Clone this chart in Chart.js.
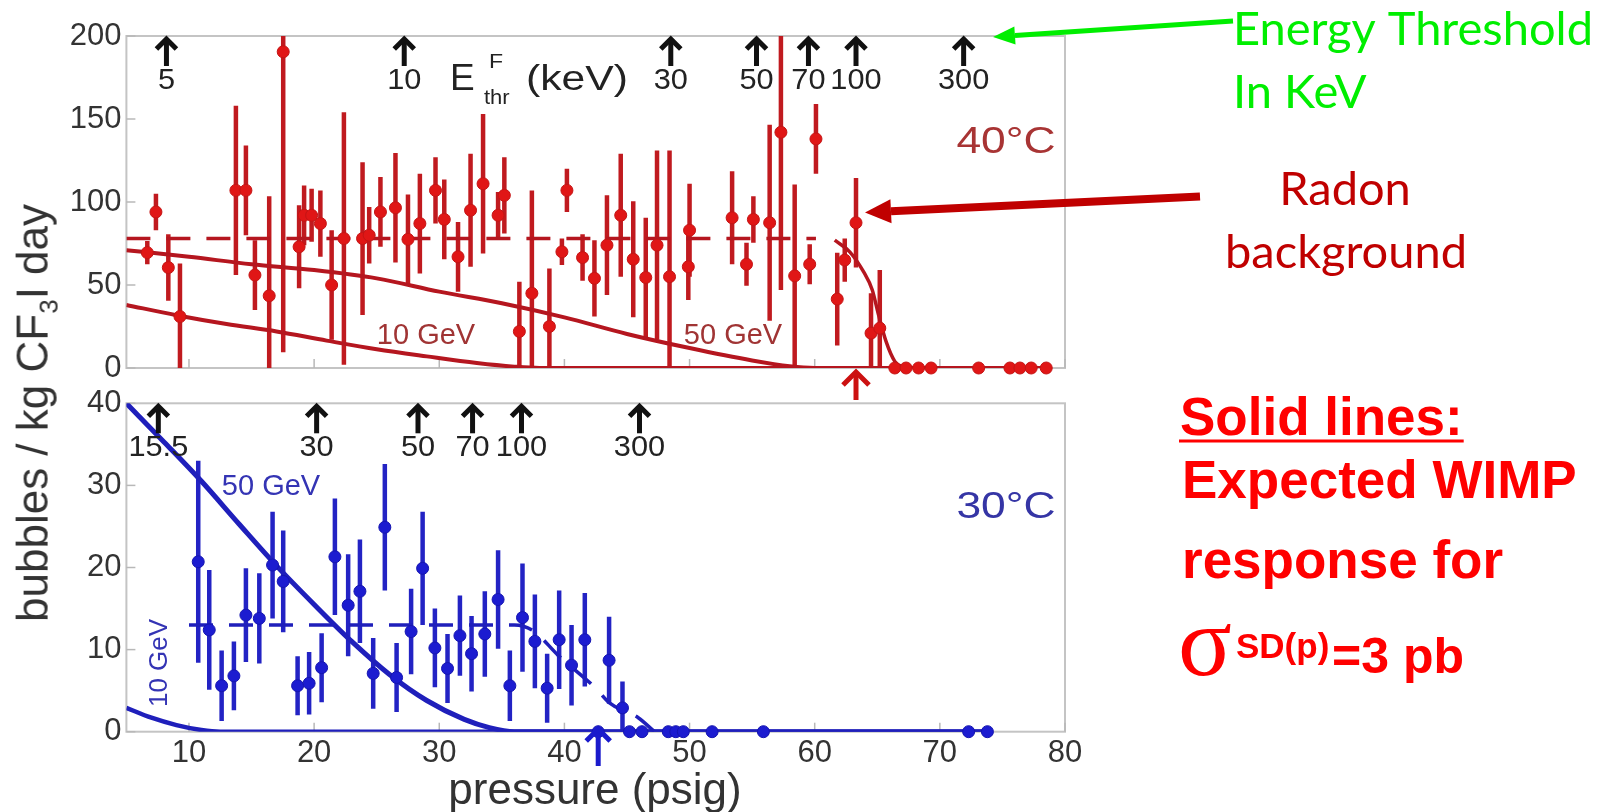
<!DOCTYPE html>
<html><head><meta charset="utf-8">
<script src="https://cdn.jsdelivr.net/npm/chart.js@4/dist/chart.umd.min.js"></script>
<style>
html,body{margin:0;padding:0;background:#fff;width:1619px;height:812px;overflow:hidden;}
#top{position:absolute;left:0;top:0;}
#bot{position:absolute;left:0;top:380px;}
#ytitle{position:absolute;left:36px;top:413px;transform:translate(-50%,-50%) rotate(-90deg);font:44px "Liberation Sans",Arial,sans-serif;color:#333;white-space:nowrap;line-height:1;}
#ytitle sub{font-size:26px;}
</style></head><body>
<canvas id="top" width="1619" height="400"></canvas>
<canvas id="bot" width="1619" height="432"></canvas>
<div id="ytitle">bubbles / kg CF<sub>3</sub>I day</div>
<script>
// ---------- data ----------
const xTicks = [10,20,30,40,50,60,70,80];
const yTicksTop = [0,50,100,150,200];
const yTicksBot = [0,10,20,30,40];

// 40°C (top panel) measurements
const redX = [6.67,7.36,8.35,9.28,13.75,14.55,15.27,16.41,17.53,18.8,19.2,19.8,20.5,21.4,22.38,23.87,24.4,25.3,26.5,27.5,28.45,29.7,30.4,31.5,32.5,33.5,34.7,35.2,36.4,37.4,38.8,39.8,40.2,41.45,42.4,43.4,44.5,45.5,46.5,47.4,48.4,49.9,50.0,53.4,54.55,55.1,56.4,57.3,58.4,59.6,60.1,61.8,62.4,63.3,64.5,65.2,66.4,67.3,68.3,69.3,73.1,75.6,76.4,77.3,78.5];
const redY = [69.5,94,60.5,31,107,107,56,43.5,190.5,73,92,92,87,50,78,78,80,94,96.5,77.5,87,107,89.5,67,95,111,92,104,22,45,25,70,107,66.5,54,74,92,65.5,54.5,74,55,61,83,90.5,62.5,89.5,87.5,142,55.5,62.5,138,41.5,65,87.5,21,24,0,0,0,0,0,0,0,0,0];
const redErr = [7,11,20,32,51,27,21,60,181,25,18,16,20,33,76,46,17,21,33,27,30,20,24,21,34,42,14,23,30,62,35,8,13,14,23,30,37,35,36,57,76,20,28,28,13,14,59,95,55,12,21,28,13,27,24,35,0,0,0,0,0,0,0,0,0];

// 30°C (bottom panel) measurements
const blueX = [10.74,11.62,12.61,13.59,14.55,15.62,16.68,17.53,18.68,19.6,20.6,21.66,22.72,23.66,24.72,25.65,26.59,27.75,28.67,29.65,30.66,31.65,32.58,33.64,34.7,35.64,36.65,37.64,38.62,39.58,40.57,41.63,43.57,44.64,42.7,45.2,46.2,48.3,48.9,49.5,51.8,55.9,72.3,73.8];
const blueY = [20.7,12.4,5.6,6.8,14.2,13.8,20.3,18.3,5.6,5.9,7.8,21.3,15.4,17.1,7.1,24.9,6.6,12.2,19.9,10.2,7.7,11.7,9.5,11.9,16.1,5.6,13.9,11,5.3,11.2,8.1,11.2,8.7,2.9,0,0,0,0,0,0,0,0,0,0];
const blueErr = [12.3,7.3,4.3,4.2,5.7,5.5,6.5,6.2,3.6,3.8,4.2,7.1,6.2,6.3,4.3,7.7,4.2,5.2,6.9,4.8,4.2,4.9,4.6,5.2,6,4.3,6.6,5.7,4.2,6,4.9,5.7,5.3,3.2,0,0,0,0,0,0,0,0,0,0];

// expected WIMP response curves
const top10X = [5,9,13,17,21,25,29,33,36,38,78.5];
const top10Y = [38,31.8,26.5,22,16.5,11.3,7,3,0.8,0,0];
const top50X = [5,10,15,20,25,30,35,40,45,50,55,58,60,78.5];
const top50Y = [71,67,62.5,59,54,46,39,30.5,20.5,12,4.5,1,0,0];
const bot50X = [5,8,11,14,17,20,23,26,29,32,34,36,74];
const bot50Y = [40,35.3,30.5,25.3,20.2,15.5,11,7,3.8,1.5,0.5,0,0];
const bot10X = [5,7,9,11,12.5,74];
const bot10Y = [2.9,1.7,0.8,0.2,0,0];

// background levels
const radonFlatX = [5,60.1];
const radonFlatY = [78,78];
const radonFallX = [61.6,62.8,63.9,64.6,65.1,65.7,66.4,67.2];
const radonFallY = [77,70,58,47,32,16,4,0];
const bgBotX = [10,36,37.5,39.5,42.5,43.6,45.9,47.2];
const bgBotY = [13,13,12.3,9.3,5.3,3.5,1.7,0];

// energy thresholds (pressure position, label)
const thrTopP = [8.2,27.2,48.5,55.35,59.5,63.3,71.9];
const thrTopLbl = ['5','10','30','50','70','100','300'];
const thrBotP = [7.55,20.2,28.3,32.66,36.57,46.0];
const thrBotLbl = ['15.5','30','50','70','100','300'];
const redMarkP = 63.3;
const blueMarkP = 42.7;

// ---------- helpers ----------
const FF = '"Liberation Sans", Arial, Helvetica, sans-serif';
const OB = 380; // top offset of bottom canvas
function xy(xs, ys){ return xs.map((x,i)=>({x:x, y:ys[i]})); }
function stext(ctx, txt, x, y, font, color, align, sx, baseline, rot){
  ctx.save(); ctx.translate(x,y); if(rot) ctx.rotate(rot); ctx.scale(sx||1,1);
  ctx.font=font; ctx.fillStyle=color; ctx.textAlign=align||'left'; ctx.textBaseline=baseline||'alphabetic';
  ctx.fillText(txt,0,0); ctx.restore();
}
function upArrow(ctx, x, tip, len, hw, hh, color, lw){
  ctx.save(); ctx.strokeStyle=color; ctx.lineWidth=lw; ctx.lineJoin='miter'; ctx.lineCap='butt';
  ctx.beginPath(); ctx.moveTo(x,tip+3); ctx.lineTo(x,tip+len); ctx.stroke();
  ctx.beginPath(); ctx.moveTo(x-hw,tip+hh); ctx.lineTo(x,tip+2); ctx.lineTo(x+hw,tip+hh); ctx.stroke();
  ctx.restore();
}
function leftArrow(ctx, x1, y1, tx, ty, color, lw, hl, hw){
  const ang = Math.atan2(y1-ty, x1-tx);
  const bx = tx + Math.cos(ang)*hl, by = ty + Math.sin(ang)*hl;
  ctx.save(); ctx.strokeStyle=color; ctx.fillStyle=color; ctx.lineWidth=lw;
  ctx.beginPath(); ctx.moveTo(x1,y1); ctx.lineTo(bx,by); ctx.stroke();
  const nx = -Math.sin(ang), ny = Math.cos(ang);
  ctx.beginPath(); ctx.moveTo(tx,ty); ctx.lineTo(bx+nx*hw, by+ny*hw); ctx.lineTo(bx-nx*hw, by-ny*hw); ctx.closePath(); ctx.fill();
  ctx.restore();
}

const errorBars = {
  id:'errorBars',
  beforeDatasetsDraw(chart){
    const {ctx, chartArea:a, scales:{x,y}} = chart;
    ctx.save();
    ctx.beginPath(); ctx.rect(a.left, a.top, a.right-a.left, a.bottom-a.top); ctx.clip();
    chart.data.datasets.forEach(ds=>{
      if(!ds.errs) return;
      ctx.strokeStyle = ds.errColor; ctx.lineWidth = 4.5;
      ds.data.forEach((p,i)=>{
        const e = ds.errs[i]; if(!e) return;
        const px = x.getPixelForValue(p.x);
        ctx.beginPath(); ctx.moveTo(px, y.getPixelForValue(Math.max(0,p.y-e))); ctx.lineTo(px, y.getPixelForValue(p.y+e)); ctx.stroke();
      });
    });
    ctx.restore();
  }
};
const frame = {
  id:'frame',
  beforeDatasetsDraw(chart){
    const {ctx, chartArea:a, scales:{x,y}} = chart;
    ctx.save();
    ctx.strokeStyle='#c4c4c4'; ctx.lineWidth=2;
    ctx.strokeRect(a.left, a.top, a.right-a.left, a.bottom-a.top);
    ctx.strokeStyle='#b8b8b8'; ctx.lineWidth=1.5;
    y.ticks.forEach(t=>{ const py=y.getPixelForValue(t.value); ctx.beginPath(); ctx.moveTo(a.left,py); ctx.lineTo(a.left+9,py); ctx.stroke(); });
    x.ticks.forEach(t=>{ const px=x.getPixelForValue(t.value); ctx.beginPath(); ctx.moveTo(px,a.bottom); ctx.lineTo(px,a.bottom-9); ctx.stroke(); });
    ctx.restore();
  }
};

const topAnnot = {
  id:'topAnnot',
  afterDraw(chart){
    const {ctx, chartArea:a, scales:{x}} = chart;
    const tip = a.top + 1;
    thrTopP.forEach((p,i)=>{
      const px = x.getPixelForValue(p);
      upArrow(ctx, px, tip, 29, 10, 12, '#111', 5);
      stext(ctx, thrTopLbl[i], px, tip+52, '29px '+FF, '#222', 'center', 1.06);
    });
    // E^F_thr (keV)
    stext(ctx, 'E', 450, 90, '37px '+FF, '#222', 'left', 1.0);
    stext(ctx, 'F', 489, 68, '21px '+FF, '#222', 'left', 1.1);
    stext(ctx, 'thr', 484, 104, '20px '+FF, '#222', 'left', 1.1);
    stext(ctx, '(keV)', 526, 90, '35px '+FF, '#222', 'left', 1.22);
    // panel labels
    stext(ctx, '40°C', 1006, 153, '37px '+FF, '#a83434', 'center', 1.2);
    stext(ctx, '10 GeV', 426, 344, '29px '+FF, '#a03434', 'center', 1);
    stext(ctx, '50 GeV', 733, 344, '29px '+FF, '#a03434', 'center', 1);
    // radon marker below axis
    upArrow(ctx, x.getPixelForValue(redMarkP), a.bottom+2, 30, 13, 15, '#cc1111', 5);
    // annotations on the right
    leftArrow(ctx, 1233, 21, 993, 37, '#00ee00', 5, 22, 9);
    stext(ctx, 'Energy Threshold', 1233, 45, '47px Lato, "Open Sans", sans-serif', '#00ee00', 'left');
    stext(ctx, 'In KeV', 1233, 108, '47px Lato, "Open Sans", sans-serif', '#00ee00', 'left');
    leftArrow(ctx, 1200, 196.5, 865, 212.5, '#c00000', 8, 26, 12);
    stext(ctx, 'Radon', 1345, 205, '47px Lato, "Open Sans", sans-serif', '#c00000', 'center');
    stext(ctx, 'background', 1346, 268, '47px Lato, "Open Sans", sans-serif', '#c00000', 'center');
  }
};

const botAnnot = {
  id:'botAnnot',
  afterDraw(chart){
    const {ctx, chartArea:a, scales:{x}} = chart;
    const tip = a.top + 1;
    thrBotP.forEach((p,i)=>{
      const px = x.getPixelForValue(p);
      upArrow(ctx, px, tip, 29, 10, 12, '#111', 5);
      stext(ctx, thrBotLbl[i], px, tip+52, '29px '+FF, '#222', 'center', 1.06);
    });
    stext(ctx, '30°C', 1006, 518-OB, '37px '+FF, '#3535a5', 'center', 1.2);
    stext(ctx, '50 GeV', 271, 495-OB, '29px '+FF, '#3434b4', 'center', 1);
    stext(ctx, '10 GeV', 160, 663-OB, '26px '+FF, '#3434b4', 'center', 1, 'middle', -Math.PI/2);
    upArrow(ctx, x.getPixelForValue(blueMarkP), 727-OB, 39, 12, 14, '#1a1acc', 5);
    stext(ctx, 'pressure (psig)', 595, 804-OB, '44px '+FF, '#333', 'center', 1);
    // WIMP note
    const bf = 'bold 53px '+FF;
    ctx.save(); ctx.font = bf; const w = ctx.measureText('Solid lines:').width; ctx.restore();
    stext(ctx, 'Solid lines:', 1180, 435-OB, bf, '#ff0000', 'left');
    ctx.save(); ctx.strokeStyle='#ff0000'; ctx.lineWidth=3; ctx.beginPath(); ctx.moveTo(1179, 441-OB); ctx.lineTo(1181+w, 441-OB); ctx.stroke(); ctx.restore();
    stext(ctx, 'Expected WIMP', 1182, 498-OB, bf, '#ff0000', 'left');
    stext(ctx, 'response for', 1182, 578-OB, bf, '#ff0000', 'left');
    stext(ctx, 'σ', 1178, 675-OB, '100px "Liberation Serif", "DejaVu Serif", serif', '#ff0000', 'left');
    stext(ctx, 'SD(p)', 1236, 658-OB, 'bold 35px '+FF, '#ff0000', 'left');
    stext(ctx, '=3 pb', 1332, 673-OB, 'bold 50px '+FF, '#ff0000', 'left');
  }
};

function yScale(min, max, ticksArr){
  return {
    type:'linear', min:min, max:max,
    afterBuildTicks: s=>{ s.ticks = ticksArr.map(v=>({value:v})); },
    afterFit: s=>{ s.width = 126.4; s.paddingTop = 0; s.paddingBottom = 0; },
    grid:{display:false, drawTicks:false}, border:{display:false},
    ticks:{font:{family:FF, size:31}, color:'#333', padding:5}
  };
}

// ---------- top chart (40°C) ----------
new Chart(document.getElementById('top'), {
  type:'scatter',
  data:{datasets:[
    {label:'40°C', data:xy(redX,redY), errs:redErr, errColor:'#c01a1f', pointRadius:6, pointBackgroundColor:'#e01616', pointBorderColor:'#c41414', pointBorderWidth:1, clip:false},
    {type:'line', label:'10 GeV', data:xy(top10X,top10Y), borderColor:'#b5161f', borderWidth:4, pointRadius:0, cubicInterpolationMode:'monotone', fill:false},
    {type:'line', label:'50 GeV', data:xy(top50X,top50Y), borderColor:'#b5161f', borderWidth:4, pointRadius:0, cubicInterpolationMode:'monotone', fill:false},
    {type:'line', label:'Radon', data:xy(radonFlatX,radonFlatY), borderColor:'#b5161f', borderWidth:3.5, borderDash:[24,16], pointRadius:0, fill:false},
    {type:'line', label:'Radon fall', data:xy(radonFallX,radonFallY), borderColor:'#b5161f', borderWidth:3.5, pointRadius:0, cubicInterpolationMode:'monotone', fill:false}
  ]},
  options:{
    responsive:false, animation:false, devicePixelRatio:1,
    layout:{padding:{left:0, right:554, top:36, bottom:32}},
    plugins:{legend:{display:false}, tooltip:{enabled:false}},
    scales:{
      x:{type:'linear', min:5, max:80, display:false, afterBuildTicks: s=>{ s.ticks = xTicks.map(v=>({value:v})); }},
      y:yScale(0,200,yTicksTop)
    }
  },
  plugins:[frame, errorBars, topAnnot]
});

// ---------- bottom chart (30°C) ----------
new Chart(document.getElementById('bot'), {
  type:'scatter',
  data:{datasets:[
    {label:'30°C', data:xy(blueX,blueY), errs:blueErr, errColor:'#2323c4', pointRadius:6, pointBackgroundColor:'#1c1cd0', pointBorderColor:'#1515b0', pointBorderWidth:1, clip:false},
    {type:'line', label:'50 GeV', data:xy(bot50X,bot50Y), borderColor:'#1f1fbb', borderWidth:5, pointRadius:0, cubicInterpolationMode:'monotone', fill:false},
    {type:'line', label:'10 GeV', data:xy(bot10X,bot10Y), borderColor:'#1f1fbb', borderWidth:4.5, pointRadius:0, cubicInterpolationMode:'monotone', fill:false},
    {type:'line', label:'background', data:xy(bgBotX,bgBotY), borderColor:'#1f1fbb', borderWidth:3.5, borderDash:[24,16], pointRadius:0, cubicInterpolationMode:'monotone', fill:false}
  ]},
  options:{
    responsive:false, animation:false, devicePixelRatio:1,
    layout:{padding:{left:0, right:554, top:23.3, bottom:0}},
    plugins:{legend:{display:false}, tooltip:{enabled:false}},
    scales:{
      x:{type:'linear', min:5, max:80,
        afterBuildTicks: s=>{ s.ticks = xTicks.map(v=>({value:v})); },
        afterFit: s=>{ s.height = 80.3; s.paddingLeft = 0; s.paddingRight = 0; },
        grid:{display:false, drawTicks:false}, border:{display:false},
        ticks:{font:{family:FF, size:31}, color:'#333', padding:3, maxRotation:0, autoSkip:false}},
      y:yScale(0,40,yTicksBot)
    }
  },
  plugins:[frame, errorBars, botAnnot]
});
</script>
</body></html>
